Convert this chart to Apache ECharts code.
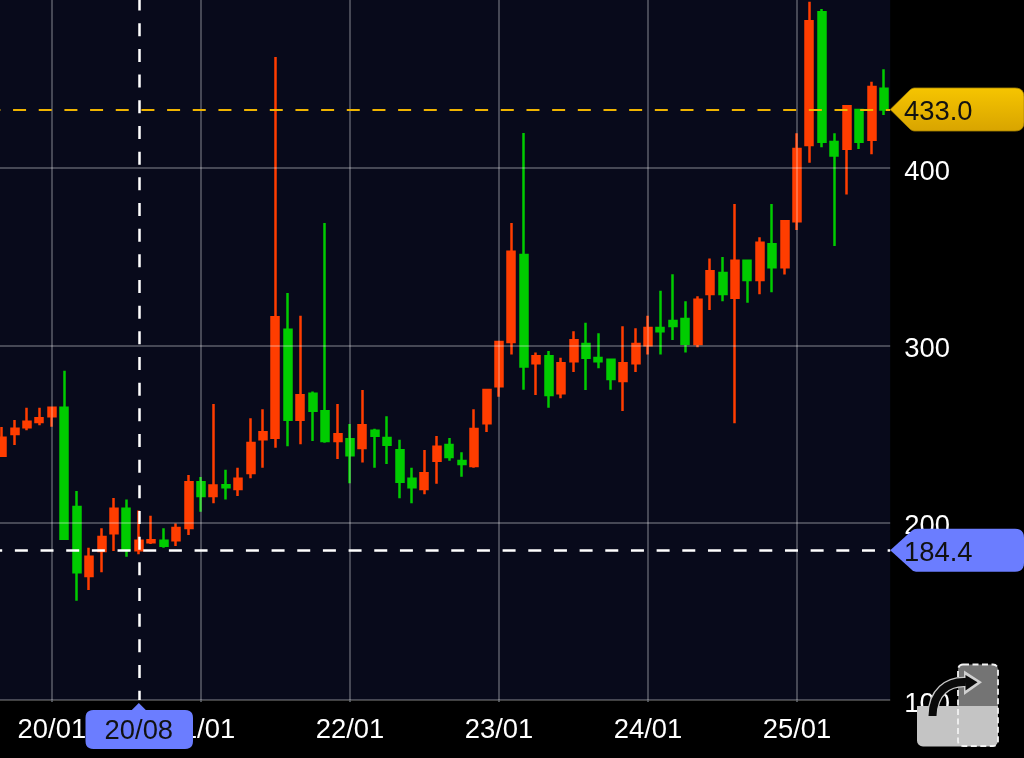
<!DOCTYPE html>
<html><head><meta charset="utf-8">
<style>html,body{margin:0;padding:0;background:#000;overflow:hidden}#c{position:absolute;left:-4px;top:0;width:1028px;height:758px}</style>
<script src="https://cdn.jsdelivr.net/npm/echarts@6/dist/echarts.min.js"></script>
</head><body><div id="c"></div>
<script>
const categories = ['19/09','19/10','19/11','19/12',
'20/01','20/02','20/03','20/04','20/05','20/06','20/07','20/08','20/09','20/10','20/11','20/12',
'21/01','21/02','21/03','21/04','21/05','21/06','21/07','21/08','21/09','21/10','21/11','21/12',
'22/01','22/02','22/03','22/04','22/05','22/06','22/07','22/08','22/09','22/10','22/11','22/12',
'23/01','23/02','23/03','23/04','23/05','23/06','23/07','23/08','23/09','23/10','23/11','23/12',
'24/01','24/02','24/03','24/04','24/05','24/06','24/07','24/08','24/09','24/10','24/11','24/12',
'25/01','25/02','25/03','25/04','25/05','25/06','25/07','25/08'];
const opens = [237.8,250,253.8,256.8,260,264.8,208.8,169.9,184,194,207.9,184.4,188.9,189.8,190.1,197,
222.8,215,221.1,219,228,247,247.9,308.8,258.1,272.7,262.8,246.1,
247,242.1,251.9,247.8,240.8,224.8,219,234.9,243.8,234.8,232,256,
276.9,301.9,351,289.9,293.8,273,291,300.8,292.9,291.9,279.9,289.9,
300,309.8,313.7,314.9,300.8,329,340.8,326.9,347.7,336.9,357,344,
370,413,487.8,414.7,410.9,432.7,416,444.7];
const closes = [247.9,253,256.9,258.9,264.8,191,172,180.8,191.9,207.9,184.6,189.8,190.1,187,197,222.8,
215,220.9,220,224.8,244.9,251,315.8,258.1,271.8,263.1,246.1,249.8,
238,254.9,249,244,223.1,220,227.8,242.8,237,233.1,252.8,274.8,
301.9,352.8,288,293.8,272,289.9,302.8,293,291,281,289.9,300.8,
309.8,307.9,310.9,300.9,325.7,341.8,329,347.7,336.9,357.9,344,370,
410.7,482.7,414.8,407,434.8,414.8,445.7,433];
const lows = [237,243.8,252.1,254.9,254.1,191,156,162,172,184,180.8,182.2,188,185.9,186.8,193,
206.2,210.9,213,215,225,231,242.3,243.1,244.2,246.1,245.1,235.9,
222.2,234,231,233.1,213.7,210.9,216,222,234.9,225.9,231,251.1,
271,294.9,275,272,264.8,270.1,285,274.8,287.1,275,263,285,
294.9,294.9,303,295.9,298.9,319.9,324.8,256,324,328.8,329.9,340,
365,403,411.7,356,385,410.7,407.7,429.9];
const highs = [254,257.9,264.8,264.8,264.8,285.7,217.9,185.9,196.8,213.9,213,206.8,203.9,196.8,199.6,226.9,
225.8,266.9,229.9,231,258.9,263.9,462.6,329.5,316.7,273.9,369,266.9,
255.6,274.8,253,260,246.8,231,241,248.9,247.8,239.7,263.9,274.8,
302.6,369,419.8,295.9,296.8,293,307.9,312.8,306.8,291.9,310.7,309.6,
316.7,330.8,340.1,324.8,327.7,348.9,349.8,379.7,347.7,360.9,379.7,370,
419.6,493.8,489.7,419.6,434.8,432.7,448.7,455.7];
const yTicks = [100,200,300,400];
const lastPrice = 433.0;
const pickedPrice = 184.4;
const pickedMonth = '20/08';

const FONT = '"Liberation Sans", Arial, sans-serif';
const FS = 27.4;
const chart = echarts.init(document.getElementById('c'), null, {renderer:'canvas'});
const isYearStart = (i) => categories[i].endsWith('/01');
const GRID_LINE = 'rgba(255,255,255,0.34)';
chart.setOption({
  animation:false,
  backgroundColor:'#000',
  grid:{left:0,right:133.8,top:0,height:700,show:true,backgroundColor:'#080a1b',borderWidth:0},
  xAxis:{type:'category',data:categories,boundaryGap:true,z:3,
    axisLine:{show:false},
    axisTick:{show:true,alignWithLabel:true,length:2,interval:isYearStart,lineStyle:{color:'#666a70',width:1.5}},
    splitLine:{show:true,alignWithLabel:true,interval:isYearStart,lineStyle:{color:GRID_LINE,width:1.5}},
    axisLabel:{interval:isYearStart,color:'#fff',fontFamily:FONT,fontSize:FS,margin:17,hideOverlap:false}},
  yAxis:{type:'value',position:'right',min:100,max:494.74,interval:100,z:3,
    axisLine:{show:false},axisTick:{show:false},
    splitLine:{show:true,showMaxLine:false,lineStyle:{color:GRID_LINE,width:1.5}},
    axisLabel:{color:'#fff',fontFamily:FONT,fontSize:FS,margin:14,showMaxLabel:false,verticalAlign:'top',lineHeight:8,
      formatter:(v)=>yTicks.includes(v)?String(v):''}},
  series:[{type:'candlestick',barWidth:7.5,clip:true,z:2,
    data:categories.map((_,i)=>[opens[i],closes[i],lows[i],highs[i]]),
    itemStyle:{color:'#ff3d00',color0:'#00cc00',borderColor:'#ff3d00',borderColor0:'#00cc00',borderWidth:2.5},
    markLine:{silent:true,symbol:'none',animation:false,label:{show:false},
      data:[
        {yAxis:lastPrice,lineStyle:{color:'#f0b400',width:2.2,type:[13,12.67],dashOffset:8.6}},
        {yAxis:pickedPrice,lineStyle:{color:'#fff',width:2.5,type:[13,12.67],dashOffset:6.8}},
        {xAxis:pickedMonth,lineStyle:{color:'#fff',width:2.5,type:[13,12.67],dashOffset:3.7}}
      ]}
  }]
});

function roundPoly(verts){
  const out=[];
  const n=verts.length;
  for(let i=0;i<n;i++){
    const [x,y,r]=verts[i];
    if(!r){out.push([x,y]);continue;}
    const p=verts[(i+n-1)%n],q=verts[(i+1)%n];
    const lp=Math.hypot(p[0]-x,p[1]-y),lq=Math.hypot(q[0]-x,q[1]-y);
    const a=[x+(p[0]-x)/lp*r,y+(p[1]-y)/lp*r],b=[x+(q[0]-x)/lq*r,y+(q[1]-y)/lq*r];
    for(let t=0;t<=6;t++){
      const s=t/6,u=1-s;
      out.push([u*u*a[0]+2*u*s*x+s*s*b[0],u*u*a[1]+2*u*s*y+s*s*b[1]]);
    }
  }
  return out;
}
const PAGE_SHIFT = 4;
const yLast=chart.convertToPixel({yAxisIndex:0},lastPrice);
const yPick=chart.convertToPixel({yAxisIndex:0},pickedPrice);
const xPick=chart.convertToPixel({xAxisIndex:0},pickedMonth)-PAGE_SHIFT;
const axisRight=890.2, axisBottom=700;
const priceTag=(y,h,neck)=>roundPoly([[axisRight,y,0],[neck,y-h,3],[1024,y-h,9],[1024,y+h,9],[neck,y+h,3]]);
const txt=(x,y,t,fill,align)=>({type:'text',x,y,z:30,silent:true,
  style:{text:t,fill,font:FS+'px '+FONT,textAlign:align||'left',textVerticalAlign:'middle'}});
const shaft={x1:932.5,y1:716,x2:966,y2:682,cpx1:933,cpy1:692,cpx2:948,cpy2:681};
const elements=[
  {type:'polygon',z:20,silent:true,shape:{points:priceTag(yLast,21.5,912)},
   style:{stroke:'#a88400',lineWidth:0.8,fill:{type:'linear',x:0,y:0,x2:0,y2:1,colorStops:[{offset:0,color:'#f6c500'},{offset:1,color:'#d8a400'}]}}},
  txt(904,yLast+3,lastPrice.toFixed(1),'#111'),
  {type:'polygon',z:20,silent:true,shape:{points:priceTag(yPick,21.5,914)},style:{fill:'#6b7dff'}},
  txt(904,yPick+3,pickedPrice.toFixed(1),'#111'),
  {type:'polygon',z:20,silent:true,
   shape:{points:roundPoly([[xPick-7,axisBottom+10,0],[xPick,axisBottom+3,0],[xPick+7,axisBottom+10,0],[193,axisBottom+10,8],[193,749,8],[85.5,749,8],[85.5,axisBottom+10,8]])},
   style:{fill:'#6b7dff'}},
  txt(xPick,731,pickedMonth,'#111','center'),
  // chart-type switch icon
  {type:'rect',z:20,silent:true,shape:{x:958,y:664.5,width:40,height:41.5,r:[5,5,0,0]},style:{fill:'#747474'}},
  {type:'rect',z:20,silent:true,shape:{x:917,y:706,width:81,height:40.5,r:[0,0,6,6]},style:{fill:'#c4c4c4'}},
  {type:'rect',z:21,silent:true,shape:{x:958,y:664.5,width:40,height:81.5,r:5},style:{fill:'none',stroke:'#f2f2f2',lineWidth:1.8,lineDash:[6,3.5]}},
  {type:'bezierCurve',z:22,silent:true,shape:shaft,style:{fill:'none',stroke:'#c8c8c8',lineWidth:10.5}},
  {type:'polygon',z:22,silent:true,shape:{points:[[964,670.5],[982,682.3],[964,695]]},style:{fill:'#d0d0d0'}},
  {type:'bezierCurve',z:23,silent:true,shape:shaft,style:{fill:'none',stroke:'#0a0a0a',lineWidth:8}},
  {type:'polygon',z:23,silent:true,shape:{points:[[965.5,675],[977.5,682.3],[965.5,690.5]]},style:{fill:'#0a0a0a'}}
];
chart.setOption({graphic:{elements:[{type:'group',x:PAGE_SHIFT,y:0,children:elements}]}});
</script></body></html>
